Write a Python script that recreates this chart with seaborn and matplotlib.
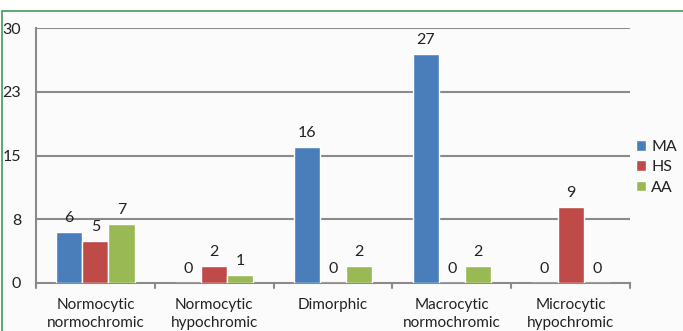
import matplotlib
matplotlib.use("Agg")
import matplotlib.pyplot as plt
import matplotlib.patches as mpatches
import seaborn as sns
import pandas as pd

categories = ["Normocytic\nnormochromic", "Normocytic\nhypochromic", "Dimorphic",
              "Macrocytic\nnormochromic", "Microcytic\nhypochromic"]
groups = ["MA", "HS", "AA"]
ma_values = [6, 0, 16, 27, 0]
hs_values = [5, 2, 0, 0, 9]
aa_values = [7, 1, 2, 2, 0]
ytick_values = [0, 7.5, 15, 22.5, 30]
ytick_labels = ["0", "8", "15", "23", "30"]

colors = {"MA": "#4a7ebb", "HS": "#be4b48", "AA": "#98b954"}

rows = []
for g, vals in zip(groups, [ma_values, hs_values, aa_values]):
    for c, v in zip(categories, vals):
        rows.append({"category": c, "group": g, "value": v})
df = pd.DataFrame(rows)

sns.set_style("white")
plt.rcParams["font.family"] = ["Lato", "DejaVu Sans"]

fig = plt.figure(figsize=(6.83, 3.31), dpi=100)
fig.patch.set_facecolor("white")

# green frame around the panel
frame = mpatches.Rectangle((1.5 / 683, -0.05), 1.2, 1 - 10.5 / 331 + 0.05,
                           transform=fig.transFigure, facecolor="#fbfbfb",
                           edgecolor="#3f9a5c", linewidth=1.2, zorder=-10)
fig.patches.append(frame)

ax = fig.add_axes([36 / 683, 1 - 283 / 331, (630 - 36) / 683, (283 - 28) / 331])
ax.set_facecolor("none")

sns.barplot(data=df, x="category", y="value", hue="group", order=categories,
            hue_order=groups, palette=colors, width=0.66, saturation=1,
            ax=ax, zorder=3, errorbar=None)

for cont in ax.containers:
    ax.bar_label(cont, fmt="%d", padding=5, fontsize=11.5, color="#222222")

ax.set_ylim(0, 30)
ax.set_xlim(-0.5, len(categories) - 0.5)
ax.set_yticks(ytick_values)
ax.set_yticklabels(ytick_labels)
ax.set_xlabel("")
ax.set_ylabel("")

grid_color = "#8a8a8a"
for y in ytick_values[1:]:
    ax.axhline(y, color=grid_color, linewidth=1.5, zorder=1)
for s in ["top", "right"]:
    ax.spines[s].set_visible(False)
for s in ["left", "bottom"]:
    ax.spines[s].set_color(grid_color)
    ax.spines[s].set_linewidth(1.5)

ax.tick_params(axis="y", length=3.6, width=1.5, color=grid_color, pad=7,
               labelsize=11.5, labelcolor="#222222")
ax.tick_params(axis="x", length=0, pad=10.5, labelsize=11, labelcolor="#222222")
for t in ax.get_xticklabels():
    t.set_linespacing(1.4)

# category boundary ticks below the axis
for b in range(len(categories) + 1):
    ax.plot([b - 0.5, b - 0.5], [0, -0.018], transform=ax.get_xaxis_transform(),
            color=grid_color, linewidth=1.5, clip_on=False, zorder=4)

handles = [mpatches.Patch(facecolor=colors[g], label=g) for g in groups]
if ax.get_legend() is not None:
    ax.get_legend().remove()
fig.legend(handles=handles, loc="upper left", bbox_to_anchor=(636 / 683, 1 - 140 / 331),
           frameon=False, fontsize=11.5, handlelength=0.65, handleheight=0.65,
           handletextpad=0.3, labelspacing=0.4, borderaxespad=0, borderpad=0,
           labelcolor="#222222")

fig.savefig("out.png", dpi=100, facecolor=fig.get_facecolor())
